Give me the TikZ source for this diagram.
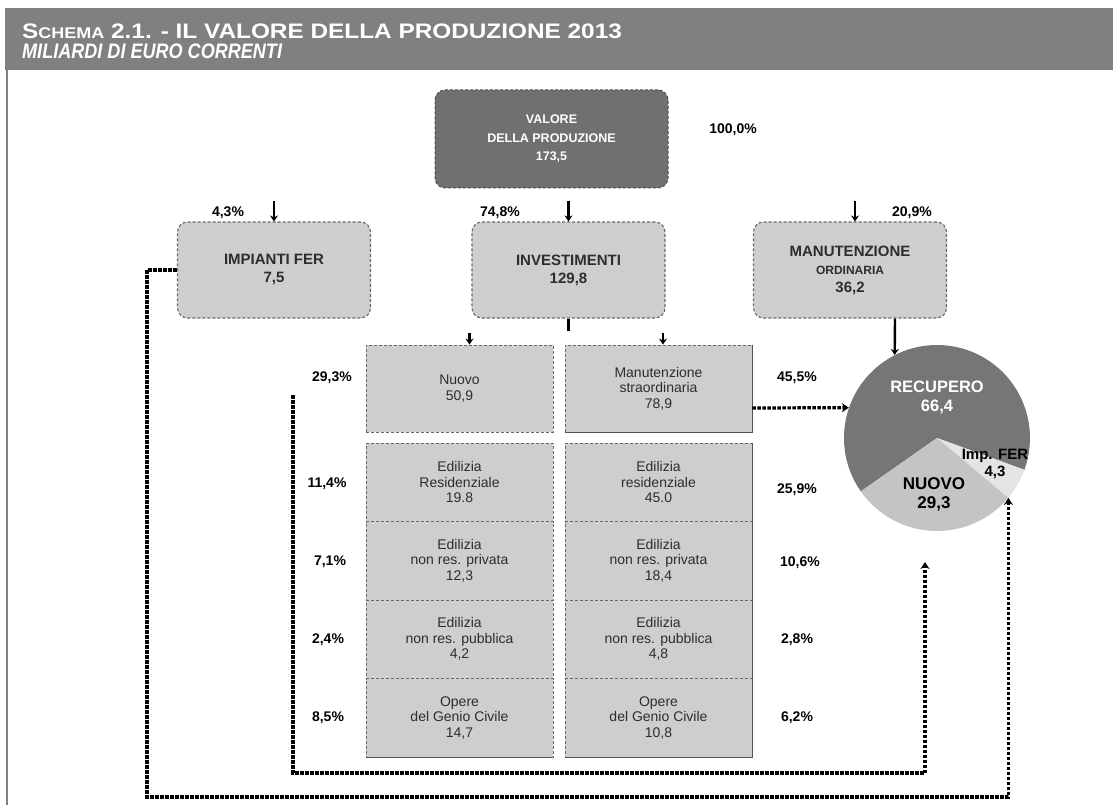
\documentclass[tikz,border=0pt]{standalone}
\usepackage{fontspec}
\setmainfont{Liberation Sans}
\usetikzlibrary{arrows.meta}
\definecolor{hdr}{RGB}{128,128,128}
\definecolor{valfill}{RGB}{112,112,112}
\definecolor{boxfill}{RGB}{206,206,206}
\definecolor{boxline}{RGB}{105,105,105}
\definecolor{boxtext}{RGB}{45,45,45}
\definecolor{recfill}{RGB}{118,118,118}
\definecolor{nuofill}{RGB}{196,196,196}
\definecolor{ferfill}{RGB}{228,228,228}
\tikzset{
  topbox/.style={draw=boxline, line width=1.1pt, dash pattern=on 3pt off 2pt, fill=boxfill, rounded corners=10pt, minimum width=193pt, minimum height=96pt, align=center, inner sep=0pt, text=boxtext, font=\bfseries\fontsize{15}{18}\selectfont},
  cellbox/.style={draw=boxline, line width=0.9pt, dash pattern=on 3pt off 2pt, fill=boxfill, minimum width=187pt, minimum height=78.5pt, align=center, inner sep=0pt, text=boxtext, font=\fontsize{14}{15.5}\selectfont},
  pct/.style={font=\bfseries\fontsize{14}{14}\selectfont, text=black, inner sep=0pt},
  link/.style={draw=black, line width=3.2pt, dash pattern=on 3.5pt off 1.5pt},
  stub/.style={draw=black, line width=2.4pt, -{Stealth[length=6pt,width=8pt]}},
  linkarrow/.style={link, -{Stealth[length=7pt,width=9pt]}}
}
\begin{document}
\begin{tikzpicture}[x=1pt,y=-1pt]
\useasboundingbox (0,0) rectangle (1113,805);
% header
\fill[hdr] (5,8) rectangle (1113,70);
\draw[hdr,line width=2.5pt] (7,70) -- (7,805);
\node[anchor=base west, text=white, inner sep=0pt, font=\bfseries\fontsize{21}{21}\selectfont] (t1) at (22,39)
  {\scalebox{1.16}[1]{S{\fontsize{15.5}{15.5}\selectfont CHEMA} 2.1. - IL VALORE DELLA PRODUZIONE 2013}};
\node[anchor=base west, text=white, inner sep=0pt, font=\bfseries\itshape\fontsize{21}{21}\selectfont] (t2) at (22,59)
  {\scalebox{0.86}[1]{MILIARDI DI EURO CORRENTI}};

% top node
\node[draw=valfill!70!black, line width=1pt, dash pattern=on 3pt off 2pt, fill=valfill, rounded corners=10pt, minimum width=233pt, minimum height=98pt, align=center, inner sep=0pt, text=white, font=\bfseries\fontsize{12.5}{18.5}\selectfont] (val) at (551.5,139) {VALORE\\DELLA PRODUZIONE\\173,5};
\node[pct] (pval) at (733,130) {100,0\%};

% second level
\node[topbox] (imp) at (274,270) {IMPIANTI FER\\7,5};
\node[topbox] (inv) at (568.5,270) {INVESTIMENTI\\129,8};
\node[topbox] (man) at (850,270) {MANUTENZIONE\\{\fontsize{12}{16}\selectfont ORDINARIA}\\36,2};
\node[pct] (pimp) at (228,213) {4,3\%};
\node[pct] (pinv) at (500,213) {74,8\%};
\node[pct] (pman) at (912,213) {20,9\%};
\draw[stub] ([yshift=20pt]imp.north) -- (imp.north);
\draw[stub] ([yshift=20pt]inv.north) -- (inv.north);
\draw[stub] ([shift={(5pt,20pt)}]man.north) -- ([xshift=5pt]man.north);

% third level
\node[cellbox, minimum height=87pt] (nuo) at (459.5,388.5) {Nuovo\\50,9};
\node[cellbox, minimum height=87pt] (mst) at (658.5,388.5) {Manutenzione\\straordinaria\\78,9};
\node[pct] (pnuo) at (332,378) {29,3\%};
\node[pct] (pmst) at (797,378) {45,5\%};
\draw[draw=black, line width=2.4pt] (inv.south) -- ([yshift=-12pt]inv.south);
\draw[stub] ([shift={(10pt,12pt)}]nuo.north) -- ([xshift=10pt]nuo.north);
\draw[stub] ([shift={(4.5pt,12pt)}]mst.north) -- ([xshift=4.5pt]mst.north);

% left column
\node[cellbox] (l1) at (459.5,482.25) {Edilizia\\Residenziale\\19.8};
\node[cellbox] (l2) at (459.5,560.75) {Edilizia\\non res. privata\\12,3};
\node[cellbox] (l3) at (459.5,639.25) {Edilizia\\non res. pubblica\\4,2};
\node[cellbox] (l4) at (459.5,717.75) {Opere\\del Genio Civile\\14,7};
% right column
\node[cellbox] (r1) at (658.5,482.25) {Edilizia\\residenziale\\45.0};
\node[cellbox] (r2) at (658.5,560.75) {Edilizia\\non res. privata\\18,4};
\node[cellbox] (r3) at (658.5,639.25) {Edilizia\\non res. pubblica\\4,8};
\node[cellbox] (r4) at (658.5,717.75) {Opere\\del Genio Civile\\10,8};
\draw[boxline!80!black, line width=1.8pt] (mst.north east) -- (mst.south east) -- (mst.south west);
\draw[boxline!80!black, line width=1.8pt] (r1.north east) -- (r4.south east) -- (r4.south west);
\draw[boxline!80!black, line width=1.4pt] (l4.south west) -- (l4.south east);

\node[pct] (pl1) at (327,484) {11,4\%};
\node[pct] (pl2) at (330,562) {7,1\%};
\node[pct] (pl3) at (328,640) {2,4\%};
\node[pct] (pl4) at (328,718) {8,5\%};
\node[pct] (pr1) at (797,490) {25,9\%};
\node[pct] (pr2) at (800,563) {10,6\%};
\node[pct] (pr3) at (797,640) {2,8\%};
\node[pct] (pr4) at (797,718) {6,2\%};

% pie
\coordinate (pc) at (937,438);
\fill[recfill] (pc) -- ++(-215:93) arc (-215:20:93) -- cycle;
\fill[ferfill] (pc) -- ++(20:93) arc (20:40:93) -- cycle;
\fill[nuofill] (pc) -- ++(40:93) arc (40:145:93) -- cycle;
\node[circle, minimum size=186pt, inner sep=0pt] (pie) at (pc) {};
\node[text=white, font=\bfseries\fontsize{16.5}{19}\selectfont, align=center] (lrec) at (937,398) {RECUPERO\\66,4};
\node[text=black, font=\bfseries\fontsize{17}{19}\selectfont, align=center] (lnuo) at (934,494) {NUOVO\\29,3};
\node[text=black, font=\bfseries\fontsize{15}{17}\selectfont, align=center] (lfer) at (995,464) {Imp. FER\\4,3};

% connectors
\draw[stub] ([xshift=45pt]man.south) -- (pie.117);
\draw[linkarrow] ([yshift=-19.5pt]mst.east) -- (pie.161);
\coordinate (a1) at (147,270);
\coordinate (a2) at (147,797);
\draw[linkarrow] (imp.west) -- (a1) -- (a2) -| (pie.-40);
\coordinate (b1) at (293,395);
\coordinate (b2) at (293,773);
\coordinate (b3) at (925,562);
\draw[linkarrow] (b1) -- (b2) -| (b3);
\end{tikzpicture}
\end{document}
